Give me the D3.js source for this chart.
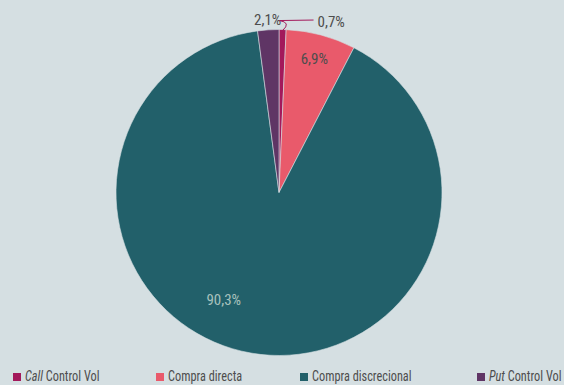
<!DOCTYPE html>
<html><head><meta charset="utf-8">
<script src="https://cdn.jsdelivr.net/npm/d3@7"></script>
<style>
html,body{margin:0;padding:0;background:#d5dfe2;overflow:hidden}
svg{display:block}
text{font-family:"Liberation Sans Narrow","Roboto Condensed","Liberation Sans",sans-serif}
</style></head><body>
<svg id="c" width="564" height="385"></svg>
<script>
const categories = ["Call Control Vol", "Compra directa", "Compra discrecional", "Put Control Vol"];
const values = [0.7, 6.9, 90.3, 2.1];
const labels = ["0,7%", "6,9%", "90,3%", "2,1%"];
const colors = ["#a3195b", "#e95a6b", "#22606a", "#5f3565"];

const svg = d3.select("#c");
const cx = 279, cy = 192.5, r = 163;
const g = svg.append("g").attr("transform", `translate(${cx},${cy})`);
const pie = d3.pie().sort(null).value(d => d)(values);
const arc = d3.arc().innerRadius(0).outerRadius(r);

g.selectAll("path").data(pie).join("path")
  .attr("d", arc).attr("fill", (d,i) => colors[i])
  .attr("stroke", "#d5dfe2").attr("stroke-width", 0.6);

function polar(a, rr) { return [Math.sin(a)*rr, -Math.cos(a)*rr]; }

// 6,9% inside
{
  const d = pie[1];
  const [x,y] = polar((d.startAngle + d.endAngle)/2, r*0.84);
  g.append("text").attr("x", x).attr("y", y)
    .attr("text-anchor","middle").attr("dominant-baseline","middle")
    .attr("font-size",15).attr("fill","#4d4d4d").text(labels[1]);
}
// 90,3% inside
{
  const d = pie[2];
  const [x,y] = polar((d.startAngle + d.endAngle)/2 + 0.30, r*0.745);
  g.append("text").attr("x", x).attr("y", y)
    .attr("text-anchor","middle").attr("dominant-baseline","middle")
    .attr("font-size",15).attr("fill","#a8c2bd").text(labels[2]);
}
// 2,1% outside
{
  const d = pie[3];
  const [x,y] = polar((d.startAngle + d.endAngle)/2, r+9);
  g.append("text").attr("x", x).attr("y", y)
    .attr("text-anchor","middle").attr("dominant-baseline","middle")
    .attr("font-size",15).attr("fill","#4d4d4d").text(labels[3]);
}
// 0,7% with leader
{
  const d = pie[0];
  const [x0,y0] = polar((d.startAngle + d.endAngle)/2, r - 1);
  const x1 = x0 + 18, y1 = y0 - 10, x2 = x1 + 13;
  g.append("path").attr("d", `M${x0},${y0}Q${x0+9},${y1+2}${x1},${y1}L${x2},${y1-0.5}`)
    .attr("fill","none").attr("stroke","#a3195b").attr("stroke-width",1);
  g.append("text").attr("x", x2+4).attr("y", y1+2)
    .attr("text-anchor","start").attr("dominant-baseline","middle")
    .attr("font-size",15).attr("fill","#4d4d4d").text(labels[0]);
}

// legend
const legX = [13, 156, 300, 477];
const leg = svg.append("g");
categories.forEach((c,i) => {
  const gg = leg.append("g").attr("transform", `translate(${legX[i]},373)`);
  gg.append("rect").attr("width",8).attr("height",8).attr("fill",colors[i]);
  const t = gg.append("text").attr("transform","translate(12,8) scale(0.82,1)")
    .attr("font-size",15).attr("fill","#4d4d4d");
  if (i === 0) { t.append("tspan").attr("font-style","italic").text("Call"); t.append("tspan").text(" Control Vol"); }
  else if (i === 3) { t.append("tspan").attr("font-style","italic").text("Put"); t.append("tspan").text(" Control Vol"); }
  else t.text(c);
});
</script>
</body></html>
